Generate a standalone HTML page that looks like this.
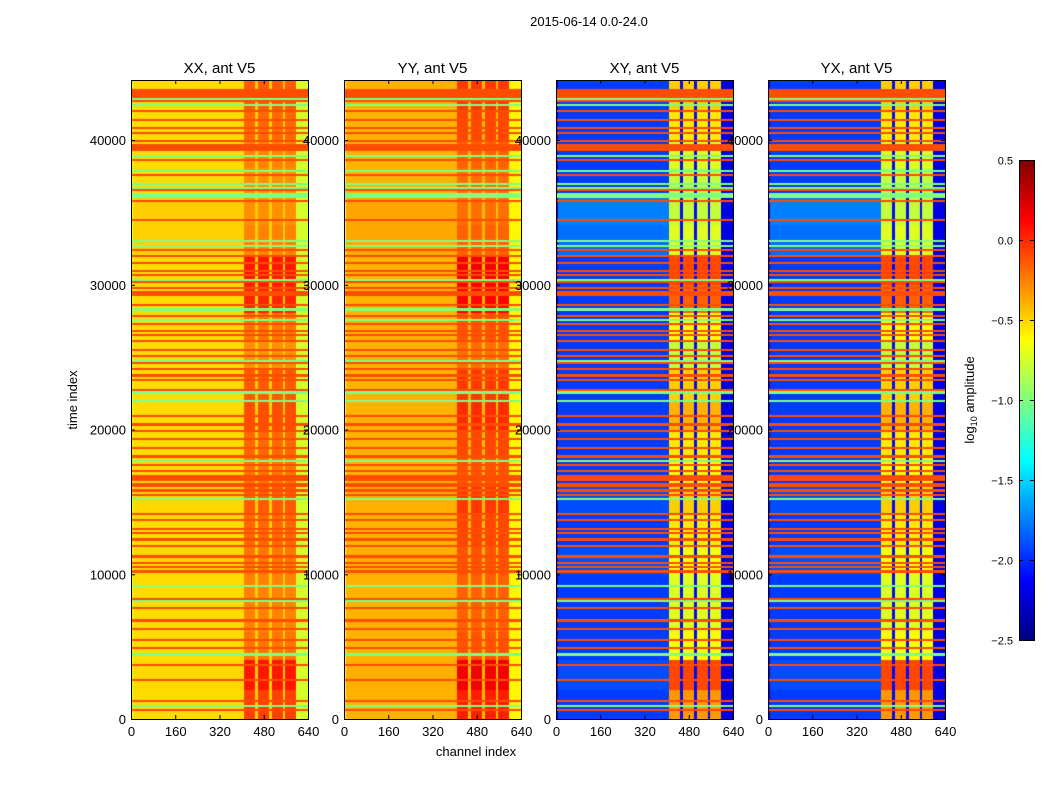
<!DOCTYPE html>
<html><head><meta charset="utf-8"><style>
body{margin:0;background:#fff;width:1050px;height:800px;overflow:hidden;position:relative}
canvas{position:absolute}
svg{position:absolute;left:0;top:0}
svg text{font-family:"Liberation Sans",sans-serif;fill:#000}
</style></head><body>
<div id="maps"></div>
<svg id="fig" width="1050" height="800" xmlns="http://www.w3.org/2000/svg">
<text x="589" y="26" font-size="13" text-anchor="middle">2015-06-14 0.0-24.0</text>
<text transform="translate(77,400) rotate(-90)" font-size="13" text-anchor="middle">time index</text>
<text x="476" y="756" font-size="13" text-anchor="middle">channel index</text>
<g id="panels"></g>
<g id="cbar"></g>
<text transform="translate(974,400) rotate(-90)" font-size="13" text-anchor="middle">log<tspan font-size="9" dy="3">10</tspan><tspan dy="-3"> amplitude</tspan></text>
</svg>
<script>
const panelNames = ["XX, ant V5","YY, ant V5","XY, ant V5","YX, ant V5"];
const panelBg = [-0.52,-0.4,-1.95,-1.95];
const panelBand = [-0.3,-0.2,-0.8,-0.8];
const panelGap = [-0.48,-0.42,-2.1,-2.1];
const panelEdge = [-0.75,-0.6,-2.2,-2.2];
const boostScale = [0.8,0.8,1.6,1.6];
const bgScale = [0.2,0.2,1,1];
const redValue = -0.1, greenValue = -1.0;
const xTicks = [0,160,320,480,640];
const yTicks = [0,10000,20000,30000,40000];
const cbTicks = [0.5,0.0,-0.5,-1.0,-1.5,-2.0,-2.5];
// column kind: 0 background, 1 band, 2 gap, 3 edge (10 channels each)
const colKind = [3,0,0,0,0,0,0,0,0,0,0,0,0,0,0,0,0,0,0,0,0,0,0,0,0,0,0,0,0,0,0,0,0,0,0,0,0,0,0,0,0,
 1,1,1,1,2,1,1,1,1,2,1,1,1,1,2,1,1,1,1,3,3,3,3];
// flagged rows (time index of red / green horizontal lines)
const redTimes = [620,1310,2700,3730,4900,5460,6290,6840,7740,8360,10300,10450,10850,11330,12020,12370,12850,13200,13750,14230,
 15480,15820,16100,16300,16500,16700,16900,17200,17550,18240,18800,19420,19970,20320,21000,22730,23430,23770,24250,24670,25150,25500,
 26050,26530,26880,27230,27920,28610,29300,29450,29780,30200,30680,31030,31580,32000,32410,34480,35860,36550,37590,38630,
 39300,39450,39600,40010,40560,40840,41390,42080,42770,43000,43150,43300,43460];
const greenTimes = [900,4420,8220,9260,15270,17900,22040,22590,24810,27580,28270,30340,32760,33100,36200,36350,36760,37030,37940,38970,42420,42970];
// band intensity boost per 2000 time units (0..44000)
const bandBoost = [0.3,0.45,0.1,0.05,0.05,0.1,0.15,0.2,0.1,0.15,0.25,0.2,0,0.1,0.4,0.45,0.05,0,0,0.05,0.15,0.2];
// background level per 2000 time units (cross-pols)
const bgLevel = [0,0.05,0,0,0,0.05,0,0.05,0,0,0,0,0,0,0,0,0.15,0.2,0,0,0,0];
const tMax = 44150, chMax = 640, vmin=-2.5, vmax=0.5, nRows=300;
const NS="http://www.w3.org/2000/svg";
const lefts=[131,344,556,768], pw=177, plotTop=80, plotBottom=719;
function jet(v){let t=(v-vmin)/(vmax-vmin);t=Math.max(0,Math.min(1,t));
 const c=x=>Math.round(255*Math.max(0,Math.min(1,1.5-Math.abs(4*t-x))));return `rgb(${c(3)},${c(2)},${c(1)})`;}
function mk(tag,attrs,parent){const e=document.createElementNS(NS,tag);for(const k in attrs)e.setAttribute(k,attrs[k]);parent.appendChild(e);return e;}
const rowFlag=new Array(nRows).fill(0), rh=tMax/nRows;
redTimes.forEach(t=>{rowFlag[Math.min(nRows-1,Math.floor(t/rh))]=1;});
greenTimes.forEach(t=>{rowFlag[Math.min(nRows-1,Math.floor(t/rh))]=2;});
const yScale=t=>plotBottom-(t/tMax)*(plotBottom-plotTop);
const G=document.getElementById('panels'), M=document.getElementById('maps');
for(let p=0;p<4;p++){
 const x0=lefts[p], xScale=ch=>ch/chMax*pw;
 const cv=document.createElement('canvas');
 
 
 cv.width=pw;cv.height=plotBottom-plotTop;cv.style.left=x0+'px';cv.style.top=plotTop+'px';
 M.appendChild(cv);
 const ctx=cv.getContext('2d');
 const cw=chMax/colKind.length;
 for(let r=0;r<nRows;r++){
  const bi=Math.min(bandBoost.length-1,Math.floor(r*rh/2000));
  const y1=yScale((r+1)*rh)-plotTop, y2=yScale(r*rh)-plotTop;
  for(let c=0;c<colKind.length;c++){
   let v;
   if(rowFlag[r]===1) v=redValue;
   else if(rowFlag[r]===2) v=greenValue;
   else {const k=colKind[c];
    if(k===0) v=panelBg[p]+bgLevel[bi]*bgScale[p];
    else if(k===1) v=panelBand[p]+bandBoost[bi]*boostScale[p];
    else if(k===2) v=panelGap[p];
    else v=panelEdge[p];}
   ctx.fillStyle=jet(v);
   const xa=Math.floor(xScale(c*cw)), xb=Math.ceil(xScale((c+1)*cw));
   ctx.fillRect(xa,Math.floor(y1),xb-xa,Math.ceil(y2)-Math.floor(y1));
  }
 }
 const g=mk('g',{},G);
 
 
 yTicks.forEach(t=>{const tx=mk('text',{x:x0-5,y:yScale(t)+5,'font-size':13,'text-anchor':'end'},g);tx.textContent=t;
  
  });
 mk('rect',{x:x0+0.5,y:plotTop+0.5,width:pw,height:plotBottom-plotTop,fill:'none',stroke:'#000','stroke-width':1},g);
 xTicks.forEach(t=>{const x=x0+xScale(t)+0.5;
  mk('line',{x1:x,x2:x,y1:plotBottom,y2:plotBottom-4,stroke:'#000'},g);
  mk('line',{x1:x,x2:x,y1:plotTop,y2:plotTop+4,stroke:'#000'},g);
  const tx=mk('text',{x:x,y:plotBottom+17,'font-size':13,'text-anchor':'middle'},g);tx.textContent=t;
  
  });
 yTicks.forEach(t=>{const y=yScale(t)+0.5;
  mk('line',{x1:x0,x2:x0+4,y1:y,y2:y,stroke:'#000'},g);
  mk('line',{x1:x0+pw,x2:x0+pw-4,y1:y,y2:y,stroke:'#000'},g);});
 const tt=mk('text',{x:x0+pw/2,y:plotTop-7,'font-size':15,'text-anchor':'middle'},g);tt.textContent=panelNames[p];
 
 
}
const CB=document.getElementById('cbar'), cbX=1019, cbW=15, cbT=160, cbB=640;
const cbY=v=>cbB-(v-vmin)/(vmax-vmin)*(cbB-cbT);
for(let i=0;i<240;i++){const v=vmin+(i+0.5)/240*(vmax-vmin);
 mk('rect',{x:cbX,y:cbY(vmin+(i+1)/240*(vmax-vmin)),width:cbW,height:2.2,fill:jet(v)},CB);}
mk('rect',{x:cbX+0.5,y:cbT+0.5,width:cbW,height:cbB-cbT,fill:'none',stroke:'#000'},CB);
cbTicks.forEach(v=>{const y=cbY(v)+0.5;
 mk('line',{x1:cbX,x2:cbX+4,y1:y,y2:y,stroke:'#000'},CB);
 mk('line',{x1:cbX+cbW-4,x2:cbX+cbW,y1:y,y2:y,stroke:'#000'},CB);
 const tx=mk('text',{x:1013,y:y+4,'font-size':11,'text-anchor':'end'},CB);tx.textContent=(v<0?'\u2212':'')+Math.abs(v).toFixed(1);
 
 });
</script>
</body></html>
